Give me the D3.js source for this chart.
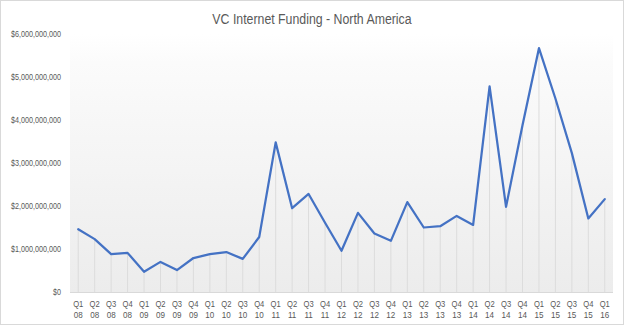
<!DOCTYPE html>
<html>
<head>
<meta charset="utf-8">
<script src="https://cdn.jsdelivr.net/npm/d3@7"></script>
<style>
  html, body { margin: 0; padding: 0; background: #fff; }
  svg { display: block; }
  text { font-family: "Liberation Sans", Arial, sans-serif; fill: #595959; }
</style>
</head>
<body>
<svg id="chart" width="624" height="325"></svg>
<script>
// Quarterly VC internet funding, North America (USD)
const quarters = ["Q1","Q2","Q3","Q4","Q1","Q2","Q3","Q4","Q1","Q2","Q3","Q4",
  "Q1","Q2","Q3","Q4","Q1","Q2","Q3","Q4","Q1","Q2","Q3","Q4",
  "Q1","Q2","Q3","Q4","Q1","Q2","Q3","Q4","Q1"];
const years = ["08","08","08","08","09","09","09","09","10","10","10","10",
  "11","11","11","11","12","12","12","12","13","13","13","13",
  "14","14","14","14","15","15","15","15","16"];
const funding = [
  1.46e9, 1.23e9, 0.88e9, 0.91e9,
  0.47e9, 0.70e9, 0.51e9, 0.79e9,
  0.88e9, 0.93e9, 0.77e9, 1.28e9,
  3.48e9, 1.95e9, 2.28e9, 1.61e9,
  0.96e9, 1.84e9, 1.36e9, 1.19e9,
  2.09e9, 1.50e9, 1.53e9, 1.77e9,
  1.56e9, 4.78e9, 1.98e9, 3.88e9,
  5.67e9, 4.50e9, 3.23e9, 1.71e9,
  2.16e9
];
const yTicks = [0, 1e9, 2e9, 3e9, 4e9, 5e9, 6e9];

const svg = d3.select("#chart");
const W = 624, H = 325;
const m = { left: 70, right: 11, top: 34, bottom: 33 };

const keys = quarters.map((q, i) => q + " " + years[i]);
const data = keys.map((k, i) => ({ key: k, q: quarters[i], yr: years[i], v: funding[i] }));

const x = d3.scaleBand().domain(keys).range([m.left, W - m.right]);
const y = d3.scaleLinear().domain([0, 6e9]).range([H - m.bottom, m.top]);
const cx = k => x(k) + x.bandwidth() / 2;

// squeeze text horizontally to get a narrow, Calibri-like set width
function condense(sel, factor) {
  sel.each(function () {
    const w = this.getComputedTextLength();
    d3.select(this).attr("textLength", w * factor).attr("lengthAdjust", "spacingAndGlyphs");
  });
}

// chart border
svg.append("rect").attr("x", 0.5).attr("y", 0.5).attr("width", W - 1).attr("height", H - 1)
  .attr("fill", "#fff").attr("stroke", "#d9d9d9");

// plot area gradient
const defs = svg.append("defs");
const grad = defs.append("linearGradient").attr("id", "plotFill")
  .attr("x1", 0).attr("y1", 0).attr("x2", 0).attr("y2", 1);
grad.append("stop").attr("offset", 0).attr("stop-color", "#ffffff");
grad.append("stop").attr("offset", 0.11).attr("stop-color", "#fbfbfb");
grad.append("stop").attr("offset", 1).attr("stop-color", "#ececec");

svg.append("rect")
  .attr("x", m.left).attr("y", m.top)
  .attr("width", W - m.right - m.left).attr("height", H - m.bottom - m.top)
  .attr("fill", "url(#plotFill)");

// title
svg.append("text").attr("x", W / 2).attr("y", 24).attr("text-anchor", "middle")
  .style("font-size", "14px").text("VC Internet Funding - North America")
  .call(condense, 0.88);

// y axis labels
const fmt = v => "$" + d3.format(",")(v);
const yAxis = d3.axisLeft(y).tickValues(yTicks).tickFormat(fmt).tickSize(0).tickPadding(9);
const gy = svg.append("g").attr("transform", `translate(${m.left},0)`).call(yAxis);
gy.select(".domain").remove();
gy.selectAll("text").attr("font-family", null).style("font-size", "9px").attr("fill", "#595959")
  .call(condense, 0.8);

// drop lines from each point to the baseline
svg.append("g").selectAll("line").data(data).join("line")
  .attr("x1", d => cx(d.key)).attr("x2", d => cx(d.key))
  .attr("y1", d => y(d.v)).attr("y2", y(0))
  .attr("stroke", "#dcdcdc").attr("stroke-width", 1);

// baseline
svg.append("line").attr("x1", m.left).attr("x2", W - m.right)
  .attr("y1", y(0) + 0.5).attr("y2", y(0) + 0.5).attr("stroke", "#d9d9d9");

// x axis labels (quarter over year)
const gx = svg.append("g");
gx.selectAll("text.q").data(data).join("text").attr("class", "q")
  .attr("x", d => cx(d.key)).attr("y", y(0) + 15).attr("text-anchor", "middle")
  .style("font-size", "9.5px").text(d => d.q).call(condense, 0.8);
gx.selectAll("text.yr").data(data).join("text").attr("class", "yr")
  .attr("x", d => cx(d.key)).attr("y", y(0) + 26).attr("text-anchor", "middle")
  .style("font-size", "9.5px").text(d => d.yr).call(condense, 0.85);

// funding line
const line = d3.line().x(d => cx(d.key)).y(d => y(d.v));
svg.append("path").datum(data).attr("d", line)
  .attr("fill", "none").attr("stroke", "#4472c4").attr("stroke-width", 2.25)
  .attr("stroke-linejoin", "round").attr("stroke-linecap", "round");
</script>
</body>
</html>
